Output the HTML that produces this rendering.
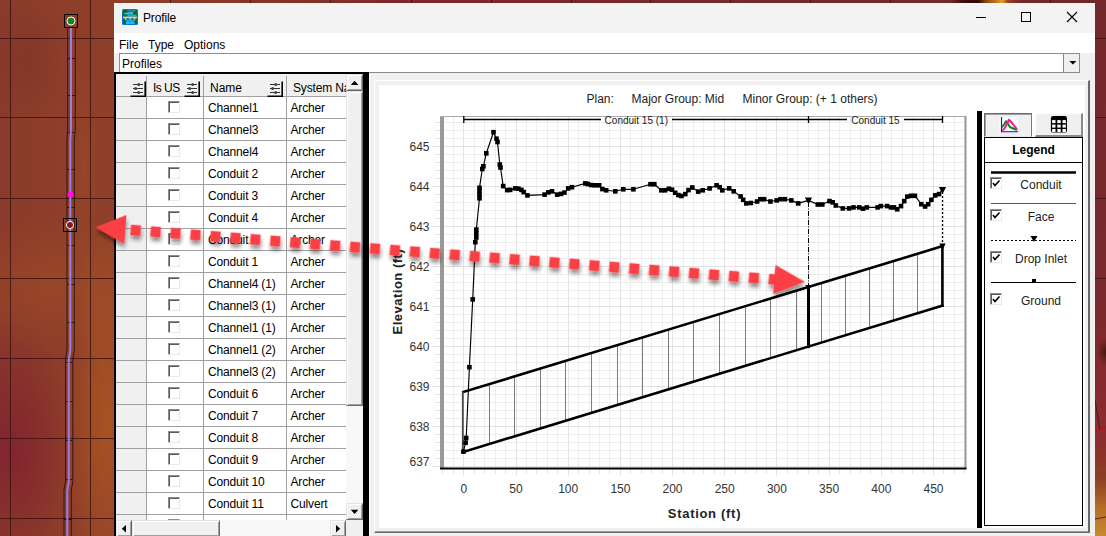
<!DOCTYPE html>
<html><head><meta charset="utf-8"><title>Profile</title>
<style>
*{box-sizing:border-box;margin:0;padding:0}
html,body{width:1106px;height:536px;overflow:hidden;background:#853624;font-family:"Liberation Sans",sans-serif;font-size:12px;color:#000}
#bg{position:absolute;left:0;top:0;width:1106px;height:536px;overflow:hidden;
background:
radial-gradient(ellipse 45px 200px at 108px 420px,rgba(185,95,30,.6),transparent),
radial-gradient(ellipse 14px 110px at 84px 170px,rgba(175,90,45,.25),transparent),
radial-gradient(ellipse 62px 130px at 12px 450px,rgba(128,30,48,.8),transparent),
radial-gradient(ellipse 120px 70px at 50px 285px,rgba(175,88,38,.35),transparent),
radial-gradient(ellipse 40px 60px at 30px 60px,rgba(120,40,40,.3),transparent),
linear-gradient(90deg,#8a3a2a 0,#8e3e29 70px,#8f4029 114px,#7a2c2a 400px,#702828 1106px);}
#bgr{position:absolute;left:1095px;top:0;width:11px;height:536px;background:radial-gradient(ellipse 8px 14px at 10px 352px,rgba(60,20,10,.8),transparent),linear-gradient(180deg,#732829 0,#7a2a2c 300px,#86292e 380px,#8c2c30 440px,#8a4022 478px,#b87028 510px,#c88a30 536px)}
.abs{position:absolute}
#win{position:absolute;left:114px;top:3px;width:981px;height:533px;background:#f0f0f0}
#title{position:absolute;left:0;top:0;width:981px;height:30px;background:#f3f3f3}
#menu{position:absolute;left:0;top:30px;width:981px;height:20px;background:#fff}
#menu span{position:absolute;top:5px;font-size:12px}
#combo{position:absolute;left:5px;top:50px;width:961px;height:20px;background:#fff;border:1px solid #8c8c8c}
#combo b{position:absolute;right:0;top:0;width:16px;height:18px;border-left:1px solid #8a8a8a;background:#f0f0f0}
.row{position:absolute;left:116px;width:231px;height:22px}
.row div{position:absolute;top:0;height:22px;border-right:1px solid #a0a0a0;border-bottom:1px solid #a0a0a0;line-height:23px;white-space:nowrap;overflow:hidden;background:#fff}
.rh{left:0;width:31px;background:#f0f0f0 !important}
.c1{left:31px;width:57px}
.c2{left:88px;width:83px;padding-left:4px;letter-spacing:-.15px}
.c3{left:171px;width:60px;padding-left:3.500px;letter-spacing:-.15px;border-right:none !important}
.cb{position:absolute;left:21px;top:4px;width:12px;height:12px;background:#fff;border-top:1px solid #8c8c8c;border-left:1px solid #8c8c8c;border-right:1px solid #e8e8e8;border-bottom:1px solid #e8e8e8;box-shadow:inset 1px 1px 0 #5a5a5a}
.fi{position:absolute}
.b3{background:#f0f0f0;border-top:1px solid #e3e3e3;border-left:1px solid #e3e3e3;border-right:1px solid #696969;border-bottom:1px solid #696969;box-shadow:inset 1px 1px 0 #fff,inset -1px -1px 0 #a0a0a0}
.dith{background:#f8f8f8}
</style></head><body>
<div id="bg"></div>
<svg class="abs" style="left:0;top:0" width="1106" height="536">
<g stroke="#3a1410" stroke-width="1" opacity=".85" shape-rendering="crispEdges">
<line x1="10.5" y1="0" x2="10.5" y2="536"/><line x1="90.5" y1="0" x2="90.5" y2="536"/>
<line x1="170.5" y1="0" x2="170.5" y2="4"/><line x1="250.5" y1="0" x2="250.5" y2="4"/><line x1="330.5" y1="0" x2="330.5" y2="4"/><line x1="411.5" y1="0" x2="411.5" y2="4"/><line x1="491.5" y1="0" x2="491.5" y2="4"/><line x1="571.5" y1="0" x2="571.5" y2="4"/><line x1="650.5" y1="0" x2="650.5" y2="4"/><line x1="730.5" y1="0" x2="730.5" y2="4"/><line x1="810.5" y1="0" x2="810.5" y2="4"/><line x1="890.5" y1="0" x2="890.5" y2="4"/><line x1="970.5" y1="0" x2="970.5" y2="4"/><line x1="1050.5" y1="0" x2="1050.5" y2="4"/>
<line x1="0" y1="38.5" x2="1106" y2="38.5"/><line x1="0" y1="117.5" x2="1106" y2="117.5"/><line x1="0" y1="198.5" x2="1106" y2="198.5"/><line x1="0" y1="278.5" x2="1106" y2="278.5"/><line x1="0" y1="358.5" x2="1106" y2="358.5"/><line x1="0" y1="438.5" x2="1106" y2="438.5"/><line x1="0" y1="518.5" x2="1106" y2="518.5"/>
</g>
<!-- conduit in map -->
<g stroke="#1a0a08" stroke-width="0.9" fill="none" opacity=".85">
<path d="M67.600 28V130L67 140V350L65.500 360V482L64 490V536"/><path d="M75.300 28V130L74.300 140V350L72.800 360V482L71.300 490V536"/>
<path d="M67 58.500H76M67 95.500H76M67 132.500H75M67 169.500H75M67 207.500H75M67 245.500H75M67 284.500H75M67 322.500H75M65 362.500H73M65 401.500H73M65 440.500H73M65 479.500H73M64 519.500H72"/>
</g>
<path d="M71 28V130L70.300 140V350L68.800 360V482L67.300 490V536" stroke="#8f7fec" stroke-width="2" fill="none"/>
<rect x="64.5" y="14.5" width="13" height="13" fill="none" stroke="#000"/>
<circle cx="71" cy="21" r="4" fill="#0a8a1c" stroke="#fff" stroke-width="1"/>
<circle cx="70.5" cy="194.5" r="3" fill="#ff10e0"/>
<rect x="63.5" y="218.5" width="13" height="13" fill="none" stroke="#000"/>
<circle cx="70" cy="225" r="3.6" fill="#8b1414" stroke="#fff" stroke-width="1"/>
</svg>
<div id="bgr"></div>
<div class="abs" style="left:950px;top:0;width:70px;height:3px;background:linear-gradient(90deg,transparent 0,#3a0c0c 14px,#2c0808 28px,#8a4a10 36px,#b87818 46px,#e0a424 52px,#9a4028 58px,transparent 70px)"></div>
<svg class="abs" style="left:1095px;top:0" width="11" height="536"><g stroke="#3a1410" stroke-width="1" opacity=".8"><line x1="0" y1="38.5" x2="11" y2="38.5"/><line x1="0" y1="117.5" x2="11" y2="117.5"/><line x1="0" y1="198.5" x2="11" y2="198.5"/><line x1="0" y1="278.500" x2="11" y2="278.500"/><line x1="0" y1="400" x2="5" y2="430"/><line x1="0" y1="519" x2="11" y2="517"/></g><g stroke="#c01010" stroke-width="1.200"><line x1="0" y1="432" x2="11" y2="427"/></g></svg>

<div id="win">
 <div id="title">
  <svg class="abs" style="left:8px;top:6px" width="16" height="16" viewBox="0 0 16 16"><rect x="0" y="0" width="16" height="16" rx="1.500" fill="#0b78c8"/><rect x="1" y="1" width="14" height="14" fill="#0b6e2c"/><path d="M6 1.300H14L13 2.600H5Z" fill="#2a8ee0"/><path d="M2 4L10.500 3L11.500 5.200L3 5.600Z" fill="#36c4ff"/><path d="M6 5.400L14.500 5.800V7.600H5Z" fill="#1aa8f0"/><rect x="1" y="7.600" width="14" height="1.600" fill="#e6c8b8"/><path d="M2.300 9.200H5L3.600 11.400ZM6.800 9.200H9.400L8.100 11.400ZM11.200 9.200H13.800L12.500 11.400Z" fill="#e6c8b8"/><circle cx="5.900" cy="10.800" r="1.500" fill="#1078e0"/><circle cx="10.300" cy="10.800" r="1.500" fill="#1078e0"/><path d="M4.300 11.200H12L12.800 15H3.800Z" fill="#22b8ff"/><path d="M5 12.600H11.500" stroke="#1098e8" stroke-width=".8"/></svg>
  <span class="abs" style="left:29px;top:8px;font-size:12px;letter-spacing:-.15px">Profile</span>
  <svg class="abs" style="left:850px;top:0" width="131" height="30"><g stroke="#000" stroke-width="1" fill="none" shape-rendering="crispEdges"><line x1="12" y1="14.5" x2="22" y2="14.5"/><rect x="57.500" y="9.500" width="9" height="9"/></g><path d="M103 9L113 19M113 9L103 19" stroke="#000" stroke-width="1.1"/></svg>
 </div>
 <div id="menu"><span style="left:5px">File</span><span style="left:34px">Type</span><span style="left:70px">Options</span></div>
 <div id="combo"><span class="abs" style="left:2px;top:3px">Profiles</span><b><svg width="15" height="18"><path d="M5.400 7H12.400L8.900 10.600Z" fill="#000"/></svg></b></div>
</div>

<!-- table -->
<div class="abs" style="left:114px;top:72px;width:255px;height:464px;background:#000"></div>
<div class="abs" style="left:116px;top:74px;width:247px;height:462px;background:#f0f0f0;overflow:hidden"></div>
<div class="abs" id="hdr" style="left:116px;top:74px;width:230px;overflow:hidden;height:23px;background:#f0f0f0;border-bottom:1px solid #a0a0a0">
 <div class="abs" style="left:30px;top:2px;width:1px;height:20px;background:#a0a0a0"></div>
 <div class="abs" style="left:87px;top:2px;width:1px;height:20px;background:#a0a0a0"></div>
 <div class="abs" style="left:170px;top:2px;width:1px;height:20px;background:#a0a0a0"></div>
 <span class="abs" style="left:37px;top:7px;letter-spacing:-.55px;white-space:nowrap">Is US</span>
 <span class="abs" style="left:94px;top:7px">Name</span>
 <span class="abs" style="left:177px;top:7px;white-space:nowrap;letter-spacing:-.15px">System Na</span>
</div>
<div class="abs" style="left:130px;top:81px"><svg class="fi" width="16" height="16" viewBox="0 0 16 16"><rect x="0" y="0" width="15" height="15" fill="#f0f0f0"/><path d="M0.500 15.200H15.200V0.500" fill="none" stroke="#000" stroke-width="1.600"/><g stroke="#333" stroke-width="1" shape-rendering="crispEdges"><line x1="3" y1="3.500" x2="13" y2="3.500"/><line x1="3" y1="7.500" x2="13" y2="7.500"/><line x1="3" y1="11.500" x2="13" y2="11.500"/></g><g fill="#444"><circle cx="8.700" cy="3.500" r="1.500"/><circle cx="5.700" cy="7.500" r="1.500"/><circle cx="8.700" cy="11.500" r="1.500"/></g></svg></div>
<div class="abs" style="left:184px;top:81px"><svg class="fi" width="16" height="16" viewBox="0 0 16 16"><rect x="0" y="0" width="15" height="15" fill="#f0f0f0"/><path d="M0.500 15.200H15.200V0.500" fill="none" stroke="#000" stroke-width="1.600"/><g stroke="#333" stroke-width="1" shape-rendering="crispEdges"><line x1="3" y1="3.500" x2="13" y2="3.500"/><line x1="3" y1="7.500" x2="13" y2="7.500"/><line x1="3" y1="11.500" x2="13" y2="11.500"/></g><g fill="#444"><circle cx="8.700" cy="3.500" r="1.500"/><circle cx="5.700" cy="7.500" r="1.500"/><circle cx="8.700" cy="11.500" r="1.500"/></g></svg></div>
<div class="abs" style="left:267px;top:81px"><svg class="fi" width="16" height="16" viewBox="0 0 16 16"><rect x="0" y="0" width="15" height="15" fill="#f0f0f0"/><path d="M0.500 15.200H15.200V0.500" fill="none" stroke="#000" stroke-width="1.600"/><g stroke="#333" stroke-width="1" shape-rendering="crispEdges"><line x1="3" y1="3.500" x2="13" y2="3.500"/><line x1="3" y1="7.500" x2="13" y2="7.500"/><line x1="3" y1="11.500" x2="13" y2="11.500"/></g><g fill="#444"><circle cx="8.700" cy="3.500" r="1.500"/><circle cx="5.700" cy="7.500" r="1.500"/><circle cx="8.700" cy="11.500" r="1.500"/></g></svg></div>
<div class="abs" style="left:0;top:0;width:346px;height:520px;overflow:hidden">
<div class="row" style="top:97px"><div class="rh"></div><div class="c1"><i class="cb"></i></div><div class="c2">Channel1</div><div class="c3">Archer</div></div>
<div class="row" style="top:119px"><div class="rh"></div><div class="c1"><i class="cb"></i></div><div class="c2">Channel3</div><div class="c3">Archer</div></div>
<div class="row" style="top:141px"><div class="rh"></div><div class="c1"><i class="cb"></i></div><div class="c2">Channel4</div><div class="c3">Archer</div></div>
<div class="row" style="top:163px"><div class="rh"></div><div class="c1"><i class="cb"></i></div><div class="c2">Conduit 2</div><div class="c3">Archer</div></div>
<div class="row" style="top:185px"><div class="rh"></div><div class="c1"><i class="cb"></i></div><div class="c2">Conduit 3</div><div class="c3">Archer</div></div>
<div class="row" style="top:207px"><div class="rh"></div><div class="c1"><i class="cb"></i></div><div class="c2">Conduit 4</div><div class="c3">Archer</div></div>
<div class="row" style="top:229px"><div class="rh"></div><div class="c1"><i class="cb"></i></div><div class="c2">Conduit 5</div><div class="c3">Archer</div></div>
<div class="row" style="top:251px"><div class="rh"></div><div class="c1"><i class="cb"></i></div><div class="c2">Conduit 1</div><div class="c3">Archer</div></div>
<div class="row" style="top:273px"><div class="rh"></div><div class="c1"><i class="cb"></i></div><div class="c2">Channel4 (1)</div><div class="c3">Archer</div></div>
<div class="row" style="top:295px"><div class="rh"></div><div class="c1"><i class="cb"></i></div><div class="c2">Channel3 (1)</div><div class="c3">Archer</div></div>
<div class="row" style="top:317px"><div class="rh"></div><div class="c1"><i class="cb"></i></div><div class="c2">Channel1 (1)</div><div class="c3">Archer</div></div>
<div class="row" style="top:339px"><div class="rh"></div><div class="c1"><i class="cb"></i></div><div class="c2">Channel1 (2)</div><div class="c3">Archer</div></div>
<div class="row" style="top:361px"><div class="rh"></div><div class="c1"><i class="cb"></i></div><div class="c2">Channel3 (2)</div><div class="c3">Archer</div></div>
<div class="row" style="top:383px"><div class="rh"></div><div class="c1"><i class="cb"></i></div><div class="c2">Conduit 6</div><div class="c3">Archer</div></div>
<div class="row" style="top:405px"><div class="rh"></div><div class="c1"><i class="cb"></i></div><div class="c2">Conduit 7</div><div class="c3">Archer</div></div>
<div class="row" style="top:427px"><div class="rh"></div><div class="c1"><i class="cb"></i></div><div class="c2">Conduit 8</div><div class="c3">Archer</div></div>
<div class="row" style="top:449px"><div class="rh"></div><div class="c1"><i class="cb"></i></div><div class="c2">Conduit 9</div><div class="c3">Archer</div></div>
<div class="row" style="top:471px"><div class="rh"></div><div class="c1"><i class="cb"></i></div><div class="c2">Conduit 10</div><div class="c3">Archer</div></div>
<div class="row" style="top:493px"><div class="rh"></div><div class="c1"><i class="cb"></i></div><div class="c2">Conduit 11</div><div class="c3">Culvert</div></div>
<div class="row" style="top:515px"><div class="rh"></div><div class="c1"><i class="cb"></i></div><div class="c2"></div><div class="c3"></div></div>
</div>
<!-- v scrollbar -->
<div class="abs dith" style="left:346px;top:74px;width:17px;height:446px"></div>
<div class="abs b3" style="left:346px;top:74px;width:17px;height:17px"><svg width="15" height="15"><path d="M3.800 10H11.400L7.600 5.800Z" fill="#000"/></svg></div>
<div class="abs b3" style="left:346px;top:91px;width:17px;height:315px"></div>
<div class="abs b3" style="left:346px;top:503px;width:17px;height:17px"><svg width="15" height="15"><path d="M3.800 5.800H11.400L7.600 10Z" fill="#000"/></svg></div>
<!-- h scrollbar -->
<div class="abs dith" style="left:116px;top:520px;width:230px;height:16px"></div>
<div class="abs b3" style="left:116px;top:520px;width:16px;height:17px"><svg width="14" height="15"><path d="M9 4V11.600L4.800 7.800Z" fill="#000"/></svg></div>
<div class="abs b3" style="left:132px;top:520px;width:88px;height:17px"></div>
<div class="abs b3" style="left:330px;top:520px;width:16px;height:17px"><svg width="14" height="15"><path d="M5 4V11.600L9.200 7.800Z" fill="#000"/></svg></div>
<div class="abs" style="left:346px;top:520px;width:17px;height:16px;background:#f0f0f0"></div>

<div class="abs" style="left:369px;top:74px;width:1px;height:462px;background:#fff"></div>
<!-- chart container -->
<div class="abs" style="left:374px;top:80px;width:716px;height:453px;background:#f0f0f0;border-top:1px solid #fff;border-left:1px solid #fff;border-right:2px solid #696969;border-bottom:1px solid #696969;box-shadow:inset 0 -1px 0 #999"></div>
<div class="abs" style="left:379px;top:85px;width:706px;height:443px;background:#fff"></div>
<div class="abs" style="left:977px;top:111px;width:5px;height:417px;background:#000"></div>
<svg class="abs" style="left:0;top:0" width="1106" height="536" font-family="Liberation Sans, sans-serif">
<rect x="440" y="116" width="526" height="352" fill="#fff"/>
<g stroke-width="1" shape-rendering="crispEdges"><line x1="453.4" y1="116" x2="453.4" y2="468" stroke="#ededed"/><line x1="463.8" y1="116" x2="463.8" y2="468" stroke="#e2e2e2"/><line x1="474.2" y1="116" x2="474.2" y2="468" stroke="#ededed"/><line x1="484.7" y1="116" x2="484.7" y2="468" stroke="#ededed"/><line x1="495.1" y1="116" x2="495.1" y2="468" stroke="#ededed"/><line x1="505.5" y1="116" x2="505.5" y2="468" stroke="#ededed"/><line x1="516.0" y1="116" x2="516.0" y2="468" stroke="#e2e2e2"/><line x1="526.4" y1="116" x2="526.4" y2="468" stroke="#ededed"/><line x1="536.9" y1="116" x2="536.9" y2="468" stroke="#ededed"/><line x1="547.3" y1="116" x2="547.3" y2="468" stroke="#ededed"/><line x1="557.7" y1="116" x2="557.7" y2="468" stroke="#ededed"/><line x1="568.2" y1="116" x2="568.2" y2="468" stroke="#e2e2e2"/><line x1="578.6" y1="116" x2="578.6" y2="468" stroke="#ededed"/><line x1="589.0" y1="116" x2="589.0" y2="468" stroke="#ededed"/><line x1="599.5" y1="116" x2="599.5" y2="468" stroke="#ededed"/><line x1="609.9" y1="116" x2="609.9" y2="468" stroke="#ededed"/><line x1="620.4" y1="116" x2="620.4" y2="468" stroke="#e2e2e2"/><line x1="630.8" y1="116" x2="630.8" y2="468" stroke="#ededed"/><line x1="641.2" y1="116" x2="641.2" y2="468" stroke="#ededed"/><line x1="651.7" y1="116" x2="651.7" y2="468" stroke="#ededed"/><line x1="662.1" y1="116" x2="662.1" y2="468" stroke="#ededed"/><line x1="672.5" y1="116" x2="672.5" y2="468" stroke="#e2e2e2"/><line x1="683.0" y1="116" x2="683.0" y2="468" stroke="#ededed"/><line x1="693.4" y1="116" x2="693.4" y2="468" stroke="#ededed"/><line x1="703.9" y1="116" x2="703.9" y2="468" stroke="#ededed"/><line x1="714.3" y1="116" x2="714.3" y2="468" stroke="#ededed"/><line x1="724.7" y1="116" x2="724.7" y2="468" stroke="#e2e2e2"/><line x1="735.2" y1="116" x2="735.2" y2="468" stroke="#ededed"/><line x1="745.6" y1="116" x2="745.6" y2="468" stroke="#ededed"/><line x1="756.0" y1="116" x2="756.0" y2="468" stroke="#ededed"/><line x1="766.5" y1="116" x2="766.5" y2="468" stroke="#ededed"/><line x1="776.9" y1="116" x2="776.9" y2="468" stroke="#e2e2e2"/><line x1="787.3" y1="116" x2="787.3" y2="468" stroke="#ededed"/><line x1="797.8" y1="116" x2="797.8" y2="468" stroke="#ededed"/><line x1="808.2" y1="116" x2="808.2" y2="468" stroke="#ededed"/><line x1="818.7" y1="116" x2="818.7" y2="468" stroke="#ededed"/><line x1="829.1" y1="116" x2="829.1" y2="468" stroke="#e2e2e2"/><line x1="839.5" y1="116" x2="839.5" y2="468" stroke="#ededed"/><line x1="850.0" y1="116" x2="850.0" y2="468" stroke="#ededed"/><line x1="860.4" y1="116" x2="860.4" y2="468" stroke="#ededed"/><line x1="870.8" y1="116" x2="870.8" y2="468" stroke="#ededed"/><line x1="881.3" y1="116" x2="881.3" y2="468" stroke="#e2e2e2"/><line x1="891.7" y1="116" x2="891.7" y2="468" stroke="#ededed"/><line x1="902.2" y1="116" x2="902.2" y2="468" stroke="#ededed"/><line x1="912.6" y1="116" x2="912.6" y2="468" stroke="#ededed"/><line x1="923.0" y1="116" x2="923.0" y2="468" stroke="#ededed"/><line x1="933.5" y1="116" x2="933.5" y2="468" stroke="#e2e2e2"/><line x1="943.9" y1="116" x2="943.9" y2="468" stroke="#ededed"/><line x1="954.3" y1="116" x2="954.3" y2="468" stroke="#ededed"/><line x1="964.8" y1="116" x2="964.8" y2="468" stroke="#ededed"/><line x1="440" y1="466.3" x2="966" y2="466.3" stroke="#e2e2e2"/><line x1="440" y1="458.3" x2="966" y2="458.3" stroke="#ededed"/><line x1="440" y1="450.3" x2="966" y2="450.3" stroke="#ededed"/><line x1="440" y1="442.3" x2="966" y2="442.3" stroke="#ededed"/><line x1="440" y1="434.3" x2="966" y2="434.3" stroke="#ededed"/><line x1="440" y1="426.3" x2="966" y2="426.3" stroke="#e2e2e2"/><line x1="440" y1="418.3" x2="966" y2="418.3" stroke="#ededed"/><line x1="440" y1="410.3" x2="966" y2="410.3" stroke="#ededed"/><line x1="440" y1="402.3" x2="966" y2="402.3" stroke="#ededed"/><line x1="440" y1="394.3" x2="966" y2="394.3" stroke="#ededed"/><line x1="440" y1="386.3" x2="966" y2="386.3" stroke="#e2e2e2"/><line x1="440" y1="378.3" x2="966" y2="378.3" stroke="#ededed"/><line x1="440" y1="370.3" x2="966" y2="370.3" stroke="#ededed"/><line x1="440" y1="362.3" x2="966" y2="362.3" stroke="#ededed"/><line x1="440" y1="354.3" x2="966" y2="354.3" stroke="#ededed"/><line x1="440" y1="346.3" x2="966" y2="346.3" stroke="#e2e2e2"/><line x1="440" y1="338.3" x2="966" y2="338.3" stroke="#ededed"/><line x1="440" y1="330.3" x2="966" y2="330.3" stroke="#ededed"/><line x1="440" y1="322.3" x2="966" y2="322.3" stroke="#ededed"/><line x1="440" y1="314.3" x2="966" y2="314.3" stroke="#ededed"/><line x1="440" y1="306.3" x2="966" y2="306.3" stroke="#e2e2e2"/><line x1="440" y1="298.3" x2="966" y2="298.3" stroke="#ededed"/><line x1="440" y1="290.3" x2="966" y2="290.3" stroke="#ededed"/><line x1="440" y1="282.3" x2="966" y2="282.3" stroke="#ededed"/><line x1="440" y1="274.3" x2="966" y2="274.3" stroke="#ededed"/><line x1="440" y1="266.3" x2="966" y2="266.3" stroke="#e2e2e2"/><line x1="440" y1="258.3" x2="966" y2="258.3" stroke="#ededed"/><line x1="440" y1="250.3" x2="966" y2="250.3" stroke="#ededed"/><line x1="440" y1="242.3" x2="966" y2="242.3" stroke="#ededed"/><line x1="440" y1="234.3" x2="966" y2="234.3" stroke="#ededed"/><line x1="440" y1="226.3" x2="966" y2="226.3" stroke="#e2e2e2"/><line x1="440" y1="218.3" x2="966" y2="218.3" stroke="#ededed"/><line x1="440" y1="210.3" x2="966" y2="210.3" stroke="#ededed"/><line x1="440" y1="202.3" x2="966" y2="202.3" stroke="#ededed"/><line x1="440" y1="194.3" x2="966" y2="194.3" stroke="#ededed"/><line x1="440" y1="186.3" x2="966" y2="186.3" stroke="#e2e2e2"/><line x1="440" y1="178.3" x2="966" y2="178.3" stroke="#ededed"/><line x1="440" y1="170.3" x2="966" y2="170.3" stroke="#ededed"/><line x1="440" y1="162.3" x2="966" y2="162.3" stroke="#ededed"/><line x1="440" y1="154.3" x2="966" y2="154.3" stroke="#ededed"/><line x1="440" y1="146.3" x2="966" y2="146.3" stroke="#e2e2e2"/><line x1="440" y1="138.3" x2="966" y2="138.3" stroke="#ededed"/><line x1="440" y1="130.3" x2="966" y2="130.3" stroke="#ededed"/><line x1="440" y1="122.3" x2="966" y2="122.3" stroke="#ededed"/></g>
<g stroke="#e4e4e4" stroke-width="1" shape-rendering="crispEdges"><line x1="432" y1="466.3" x2="440" y2="466.3"/><line x1="435" y1="458.3" x2="440" y2="458.3"/><line x1="435" y1="450.3" x2="440" y2="450.3"/><line x1="435" y1="442.3" x2="440" y2="442.3"/><line x1="435" y1="434.3" x2="440" y2="434.3"/><line x1="432" y1="426.3" x2="440" y2="426.3"/><line x1="435" y1="418.3" x2="440" y2="418.3"/><line x1="435" y1="410.3" x2="440" y2="410.3"/><line x1="435" y1="402.3" x2="440" y2="402.3"/><line x1="435" y1="394.3" x2="440" y2="394.3"/><line x1="432" y1="386.3" x2="440" y2="386.3"/><line x1="435" y1="378.3" x2="440" y2="378.3"/><line x1="435" y1="370.3" x2="440" y2="370.3"/><line x1="435" y1="362.3" x2="440" y2="362.3"/><line x1="435" y1="354.3" x2="440" y2="354.3"/><line x1="432" y1="346.3" x2="440" y2="346.3"/><line x1="435" y1="338.3" x2="440" y2="338.3"/><line x1="435" y1="330.3" x2="440" y2="330.3"/><line x1="435" y1="322.3" x2="440" y2="322.3"/><line x1="435" y1="314.3" x2="440" y2="314.3"/><line x1="432" y1="306.3" x2="440" y2="306.3"/><line x1="435" y1="298.3" x2="440" y2="298.3"/><line x1="435" y1="290.3" x2="440" y2="290.3"/><line x1="435" y1="282.3" x2="440" y2="282.3"/><line x1="435" y1="274.3" x2="440" y2="274.3"/><line x1="432" y1="266.3" x2="440" y2="266.3"/><line x1="435" y1="258.3" x2="440" y2="258.3"/><line x1="435" y1="250.3" x2="440" y2="250.3"/><line x1="435" y1="242.3" x2="440" y2="242.3"/><line x1="435" y1="234.3" x2="440" y2="234.3"/><line x1="432" y1="226.3" x2="440" y2="226.3"/><line x1="435" y1="218.3" x2="440" y2="218.3"/><line x1="435" y1="210.3" x2="440" y2="210.3"/><line x1="435" y1="202.3" x2="440" y2="202.3"/><line x1="435" y1="194.3" x2="440" y2="194.3"/><line x1="432" y1="186.3" x2="440" y2="186.3"/><line x1="435" y1="178.3" x2="440" y2="178.3"/><line x1="435" y1="170.3" x2="440" y2="170.3"/><line x1="435" y1="162.3" x2="440" y2="162.3"/><line x1="435" y1="154.3" x2="440" y2="154.3"/><line x1="432" y1="146.3" x2="440" y2="146.3"/><line x1="435" y1="138.3" x2="440" y2="138.3"/><line x1="435" y1="130.3" x2="440" y2="130.3"/><line x1="435" y1="122.3" x2="440" y2="122.3"/><line x1="442.9" y1="468" x2="442.9" y2="474"/><line x1="453.4" y1="468" x2="453.4" y2="474"/><line x1="463.8" y1="468" x2="463.8" y2="476"/><line x1="474.2" y1="468" x2="474.2" y2="474"/><line x1="484.7" y1="468" x2="484.7" y2="474"/><line x1="495.1" y1="468" x2="495.1" y2="474"/><line x1="505.5" y1="468" x2="505.5" y2="474"/><line x1="516.0" y1="468" x2="516.0" y2="476"/><line x1="526.4" y1="468" x2="526.4" y2="474"/><line x1="536.9" y1="468" x2="536.9" y2="474"/><line x1="547.3" y1="468" x2="547.3" y2="474"/><line x1="557.7" y1="468" x2="557.7" y2="474"/><line x1="568.2" y1="468" x2="568.2" y2="476"/><line x1="578.6" y1="468" x2="578.6" y2="474"/><line x1="589.0" y1="468" x2="589.0" y2="474"/><line x1="599.5" y1="468" x2="599.5" y2="474"/><line x1="609.9" y1="468" x2="609.9" y2="474"/><line x1="620.4" y1="468" x2="620.4" y2="476"/><line x1="630.8" y1="468" x2="630.8" y2="474"/><line x1="641.2" y1="468" x2="641.2" y2="474"/><line x1="651.7" y1="468" x2="651.7" y2="474"/><line x1="662.1" y1="468" x2="662.1" y2="474"/><line x1="672.5" y1="468" x2="672.5" y2="476"/><line x1="683.0" y1="468" x2="683.0" y2="474"/><line x1="693.4" y1="468" x2="693.4" y2="474"/><line x1="703.9" y1="468" x2="703.9" y2="474"/><line x1="714.3" y1="468" x2="714.3" y2="474"/><line x1="724.7" y1="468" x2="724.7" y2="476"/><line x1="735.2" y1="468" x2="735.2" y2="474"/><line x1="745.6" y1="468" x2="745.6" y2="474"/><line x1="756.0" y1="468" x2="756.0" y2="474"/><line x1="766.5" y1="468" x2="766.5" y2="474"/><line x1="776.9" y1="468" x2="776.9" y2="476"/><line x1="787.3" y1="468" x2="787.3" y2="474"/><line x1="797.8" y1="468" x2="797.8" y2="474"/><line x1="808.2" y1="468" x2="808.2" y2="474"/><line x1="818.7" y1="468" x2="818.7" y2="474"/><line x1="829.1" y1="468" x2="829.1" y2="476"/><line x1="839.5" y1="468" x2="839.5" y2="474"/><line x1="850.0" y1="468" x2="850.0" y2="474"/><line x1="860.4" y1="468" x2="860.4" y2="474"/><line x1="870.8" y1="468" x2="870.8" y2="474"/><line x1="881.3" y1="468" x2="881.3" y2="476"/><line x1="891.7" y1="468" x2="891.7" y2="474"/><line x1="902.2" y1="468" x2="902.2" y2="474"/><line x1="912.6" y1="468" x2="912.6" y2="474"/><line x1="923.0" y1="468" x2="923.0" y2="474"/><line x1="933.5" y1="468" x2="933.5" y2="476"/><line x1="943.9" y1="468" x2="943.9" y2="474"/><line x1="954.3" y1="468" x2="954.3" y2="474"/><line x1="964.8" y1="468" x2="964.8" y2="474"/></g>
<rect x="440" y="116" width="4" height="352" fill="#999"/>
<rect x="440" y="116" width="526" height="1" fill="#aaa"/>
<rect x="964.5" y="116" width="2" height="352" fill="#999"/>
<rect x="440" y="467.5" width="526.5" height="2" fill="#000"/>
<g stroke="#7c7c7c" stroke-width="1"><line x1="489.5" y1="384.2" x2="489.5" y2="444.1"/><line x1="514.5" y1="376.4" x2="514.5" y2="436.3"/><line x1="540.5" y1="368.6" x2="540.5" y2="428.5"/><line x1="565.5" y1="360.8" x2="565.5" y2="420.6"/><line x1="591.5" y1="353.0" x2="591.5" y2="412.8"/><line x1="617.5" y1="345.2" x2="617.5" y2="405.0"/><line x1="642.5" y1="337.5" x2="642.5" y2="397.2"/><line x1="668.5" y1="329.7" x2="668.5" y2="389.4"/><line x1="693.5" y1="321.9" x2="693.5" y2="381.6"/><line x1="719.5" y1="314.1" x2="719.5" y2="373.8"/><line x1="745.5" y1="306.3" x2="745.5" y2="366.0"/><line x1="770.5" y1="298.5" x2="770.5" y2="358.1"/><line x1="796.5" y1="290.7" x2="796.5" y2="350.3"/><line x1="821.5" y1="283.1" x2="821.5" y2="342.7"/><line x1="845.5" y1="275.7" x2="845.5" y2="335.2"/><line x1="869.5" y1="268.3" x2="869.5" y2="327.9"/><line x1="893.5" y1="261.0" x2="893.5" y2="320.5"/><line x1="917.5" y1="253.7" x2="917.5" y2="313.2"/></g>
<g stroke="#000" stroke-width="2.6" fill="none" stroke-linecap="square"><line x1="463.4" y1="392" x2="942.4" y2="246.2"/><line x1="463.4" y1="451.9" x2="942.4" y2="305.7"/><line x1="942.4" y1="246.2" x2="942.4" y2="305.7"/><line x1="808.5" y1="287.0" x2="808.5" y2="346.6" stroke-width="3"/></g>
<line x1="462.79999999999995" y1="392" x2="462.79999999999995" y2="451.9" stroke="#444" stroke-width="1.8"/>
<line x1="808.5" y1="202" x2="808.5" y2="287.0" stroke="#000" stroke-width="1" stroke-dasharray="5 1.5 1 1.5"/>
<line x1="942.5" y1="192" x2="942.5" y2="246.2" stroke="#000" stroke-width="1.3" stroke-dasharray="2 2"/>
<path d="M804.9 197.6L812.1 197.6L808.5 204.6Z" fill="#000"/><path d="M805.3 284.9L811.7 284.9L808.5 291.1Z" fill="#000"/><path d="M938.9 187.0L946.1 187.0L942.5 194.0Z" fill="#000"/><path d="M939.3 243.6L945.7 243.6L942.5 249.8Z" fill="#000"/>
<polyline points="463.4,451.6 465.6,442.7 466.2,438.0 469.4,367.2 472.7,299.4 475.3,242.2 476.3,237.5 476.3,233.5 476.3,229.6 479.5,198.3 479.5,194.5 479.5,191.0 479.5,187.8 482.3,169.0 483.4,166.3 486.3,153.3 493.5,132.2 496.5,138.7 497.5,142.0 499.8,164.5 500.5,167.5 503.2,186.1 507.2,190.1 510.2,189.9 515.4,188.4 518.4,188.7 521.4,189.9 523.7,192.1 527.4,195.4 544.6,194.6 548.3,192.4 552.0,191.3 557.2,194.6 561.0,193.9 564.4,192.6 568.2,188.4 572.0,187.2 585.3,183.4 587.8,184.0 591.0,185.0 594.8,185.3 599.2,185.3 602.4,189.1 606.2,190.3 615.3,191.3 623.3,189.3 633.4,189.3 650.5,184.2 654.3,184.2 661.3,190.3 665.0,190.3 668.9,188.8 672.0,189.7 675.2,192.8 678.4,195.1 681.5,196.0 685.3,194.1 688.5,190.1 692.3,187.5 698.2,191.6 702.7,190.3 709.6,188.4 716.6,185.3 719.7,187.2 722.3,190.3 729.2,188.4 733.7,191.3 740.6,196.4 743.2,199.8 746.3,203.4 750.8,203.0 757.1,201.5 760.3,199.2 764.1,199.2 770.4,201.5 776.7,200.4 780.5,199.2 784.9,199.2 791.3,200.4 798.2,203.4 808.4,200.4 817.8,204.5 822.3,204.5 829.5,201.1 832.7,202.3 835.8,205.5 842.8,208.4 849.1,208.4 853.5,207.4 859.2,207.4 863.0,208.7 866.8,207.4 877.6,207.4 880.8,206.1 887.1,206.1 890.9,207.4 894.0,207.4 897.2,209.3 901.0,206.1 904.2,201.1 907.3,196.6 911.1,195.8 914.9,195.8 921.3,204.2 925.1,206.5 928.2,204.2 931.4,199.8 935.2,195.4 939.0,194.1 942.5,189.7" fill="none" stroke="#000" stroke-width="1.150" stroke-linejoin="round"/>
<g fill="#000"><rect x="461.1" y="449.3" width="4.6" height="4.6"/><rect x="463.3" y="440.4" width="4.6" height="4.6"/><rect x="463.9" y="435.7" width="4.6" height="4.6"/><rect x="467.1" y="364.9" width="4.6" height="4.6"/><rect x="470.4" y="297.1" width="4.6" height="4.6"/><rect x="473.0" y="239.9" width="4.6" height="4.6"/><rect x="474.0" y="235.2" width="4.6" height="4.6"/><rect x="474.0" y="231.2" width="4.6" height="4.6"/><rect x="474.0" y="227.3" width="4.6" height="4.6"/><rect x="477.2" y="196.0" width="4.6" height="4.6"/><rect x="477.2" y="192.2" width="4.6" height="4.6"/><rect x="477.2" y="188.7" width="4.6" height="4.6"/><rect x="477.2" y="185.5" width="4.6" height="4.6"/><rect x="480.0" y="166.7" width="4.6" height="4.6"/><rect x="481.1" y="164.0" width="4.6" height="4.6"/><rect x="484.0" y="151.0" width="4.6" height="4.6"/><rect x="491.2" y="129.9" width="4.6" height="4.6"/><rect x="494.2" y="136.4" width="4.6" height="4.6"/><rect x="495.2" y="139.7" width="4.6" height="4.6"/><rect x="497.5" y="162.2" width="4.6" height="4.6"/><rect x="498.2" y="165.2" width="4.6" height="4.6"/><rect x="500.9" y="183.8" width="4.6" height="4.6"/><rect x="504.9" y="187.8" width="4.6" height="4.6"/><rect x="507.9" y="187.6" width="4.6" height="4.6"/><rect x="513.1" y="186.1" width="4.6" height="4.6"/><rect x="516.1" y="186.4" width="4.6" height="4.6"/><rect x="519.1" y="187.6" width="4.6" height="4.6"/><rect x="521.4" y="189.8" width="4.6" height="4.6"/><rect x="525.1" y="193.1" width="4.6" height="4.6"/><rect x="542.3" y="192.3" width="4.6" height="4.6"/><rect x="546.0" y="190.1" width="4.6" height="4.6"/><rect x="549.7" y="189.0" width="4.6" height="4.6"/><rect x="554.9" y="192.3" width="4.6" height="4.6"/><rect x="558.7" y="191.6" width="4.6" height="4.6"/><rect x="562.1" y="190.3" width="4.6" height="4.6"/><rect x="565.9" y="186.1" width="4.6" height="4.6"/><rect x="569.7" y="184.9" width="4.6" height="4.6"/><rect x="583.0" y="181.1" width="4.6" height="4.6"/><rect x="585.5" y="181.7" width="4.6" height="4.6"/><rect x="588.7" y="182.7" width="4.6" height="4.6"/><rect x="592.5" y="183.0" width="4.6" height="4.6"/><rect x="596.9" y="183.0" width="4.6" height="4.6"/><rect x="600.1" y="186.8" width="4.6" height="4.6"/><rect x="603.9" y="188.0" width="4.6" height="4.6"/><rect x="613.0" y="189.0" width="4.6" height="4.6"/><rect x="621.0" y="187.0" width="4.6" height="4.6"/><rect x="631.1" y="187.0" width="4.6" height="4.6"/><rect x="648.2" y="181.9" width="4.6" height="4.6"/><rect x="652.0" y="181.9" width="4.6" height="4.6"/><rect x="659.0" y="188.0" width="4.6" height="4.6"/><rect x="662.7" y="188.0" width="4.6" height="4.6"/><rect x="666.6" y="186.5" width="4.6" height="4.6"/><rect x="669.7" y="187.4" width="4.6" height="4.6"/><rect x="672.9" y="190.5" width="4.6" height="4.6"/><rect x="676.1" y="192.8" width="4.6" height="4.6"/><rect x="679.2" y="193.7" width="4.6" height="4.6"/><rect x="683.0" y="191.8" width="4.6" height="4.6"/><rect x="686.2" y="187.8" width="4.6" height="4.6"/><rect x="690.0" y="185.2" width="4.6" height="4.6"/><rect x="695.9" y="189.3" width="4.6" height="4.6"/><rect x="700.4" y="188.0" width="4.6" height="4.6"/><rect x="707.3" y="186.1" width="4.6" height="4.6"/><rect x="714.3" y="183.0" width="4.6" height="4.6"/><rect x="717.4" y="184.9" width="4.6" height="4.6"/><rect x="720.0" y="188.0" width="4.6" height="4.6"/><rect x="726.9" y="186.1" width="4.6" height="4.6"/><rect x="731.4" y="189.0" width="4.6" height="4.6"/><rect x="738.3" y="194.1" width="4.6" height="4.6"/><rect x="740.9" y="197.5" width="4.6" height="4.6"/><rect x="744.0" y="201.1" width="4.6" height="4.6"/><rect x="748.5" y="200.7" width="4.6" height="4.6"/><rect x="754.8" y="199.2" width="4.6" height="4.6"/><rect x="758.0" y="196.9" width="4.6" height="4.6"/><rect x="761.8" y="196.9" width="4.6" height="4.6"/><rect x="768.1" y="199.2" width="4.6" height="4.6"/><rect x="774.4" y="198.1" width="4.6" height="4.6"/><rect x="778.2" y="196.9" width="4.6" height="4.6"/><rect x="782.6" y="196.9" width="4.6" height="4.6"/><rect x="789.0" y="198.1" width="4.6" height="4.6"/><rect x="795.9" y="201.1" width="4.6" height="4.6"/><rect x="815.5" y="202.2" width="4.6" height="4.6"/><rect x="820.0" y="202.2" width="4.6" height="4.6"/><rect x="827.2" y="198.8" width="4.6" height="4.6"/><rect x="830.4" y="200.0" width="4.6" height="4.6"/><rect x="833.5" y="203.2" width="4.6" height="4.6"/><rect x="840.5" y="206.1" width="4.6" height="4.6"/><rect x="846.8" y="206.1" width="4.6" height="4.6"/><rect x="851.2" y="205.1" width="4.6" height="4.6"/><rect x="856.9" y="205.1" width="4.6" height="4.6"/><rect x="860.7" y="206.4" width="4.6" height="4.6"/><rect x="864.5" y="205.1" width="4.6" height="4.6"/><rect x="875.3" y="205.1" width="4.6" height="4.6"/><rect x="878.5" y="203.8" width="4.6" height="4.6"/><rect x="884.8" y="203.8" width="4.6" height="4.6"/><rect x="888.6" y="205.1" width="4.6" height="4.6"/><rect x="891.7" y="205.1" width="4.6" height="4.6"/><rect x="894.9" y="207.0" width="4.6" height="4.6"/><rect x="898.7" y="203.8" width="4.6" height="4.6"/><rect x="901.9" y="198.8" width="4.6" height="4.6"/><rect x="905.0" y="194.3" width="4.6" height="4.6"/><rect x="908.8" y="193.5" width="4.6" height="4.6"/><rect x="912.6" y="193.5" width="4.6" height="4.6"/><rect x="919.0" y="201.9" width="4.6" height="4.6"/><rect x="922.8" y="204.2" width="4.6" height="4.6"/><rect x="925.9" y="201.9" width="4.6" height="4.6"/><rect x="929.1" y="197.5" width="4.6" height="4.6"/><rect x="932.9" y="193.1" width="4.6" height="4.6"/><rect x="936.7" y="191.8" width="4.6" height="4.6"/></g>
<g stroke="#000" stroke-width="1.3"><line x1="463.8" y1="119.5" x2="601" y2="119.5"/><line x1="672" y1="119.5" x2="808.5" y2="119.5"/><line x1="808.5" y1="119.5" x2="847" y2="119.5"/><line x1="904" y1="119.5" x2="942.5" y2="119.5"/><line x1="463.8" y1="116" x2="463.8" y2="123"/><line x1="808.5" y1="116" x2="808.5" y2="123"/><line x1="942.5" y1="116" x2="942.5" y2="123"/></g>
<g font-size="10" fill="#222" text-anchor="middle"><text x="636.3" y="123.8">Conduit 15 (1)</text><text x="875.5" y="123.8">Conduit 15</text></g>
<g font-size="12" fill="#333"><text x="429.500" y="431.3" text-anchor="end">638</text><text x="429.500" y="391.3" text-anchor="end">639</text><text x="429.500" y="351.3" text-anchor="end">640</text><text x="429.500" y="311.3" text-anchor="end">641</text><text x="429.500" y="271.3" text-anchor="end">642</text><text x="429.500" y="231.3" text-anchor="end">643</text><text x="429.500" y="191.3" text-anchor="end">644</text><text x="429.500" y="151.3" text-anchor="end">645</text><text x="429.500" y="465.500" text-anchor="end">637</text><text x="463.8" y="493.400" text-anchor="middle">0</text><text x="516.0" y="493.400" text-anchor="middle">50</text><text x="568.2" y="493.400" text-anchor="middle">100</text><text x="620.4" y="493.400" text-anchor="middle">150</text><text x="672.5" y="493.400" text-anchor="middle">200</text><text x="724.7" y="493.400" text-anchor="middle">250</text><text x="776.9" y="493.400" text-anchor="middle">300</text><text x="829.1" y="493.400" text-anchor="middle">350</text><text x="881.3" y="493.400" text-anchor="middle">400</text><text x="933.5" y="493.400" text-anchor="middle">450</text></g>
<text x="704.500" y="517.800" font-size="13" font-weight="bold" fill="#222" text-anchor="middle" letter-spacing="0.700">Station (ft)</text>
<text transform="translate(402,334.500) rotate(-90)" font-size="13" font-weight="bold" fill="#222" text-anchor="start" letter-spacing="0.500">Elevation (ft)</text>
<g font-size="12" fill="#222"><text x="586.5" y="103">Plan:</text><text x="631.5" y="103">Major Group: Mid</text><text x="742.5" y="103">Minor Group: (+ 1 others)</text></g>
</svg>

<!-- legend -->
<div class="abs" style="left:984px;top:113px;width:48px;height:24px;background:#f0f0f0;border-top:1px solid #696969;border-left:1px solid #696969;border-right:1px solid #7a7a7a;border-bottom:1px solid #e8e8e8;box-shadow:inset 1px 1px 0 #a0a0a0"></div>
<div class="abs" style="left:1035px;top:113px;width:48px;height:24px;background:#f0f0f0;border-top:1px solid #fff;border-left:1px solid #fff;border-right:2px solid #8a8a8a;border-bottom:2px solid #8a8a8a"></div>
<svg class="abs" style="left:999px;top:116px" width="20" height="18" viewBox="999 116 20 18"><rect x="999.400" y="116.800" width="18.600" height="15.800" fill="#fff" opacity=".85"/><path d="M1001.500 117V131.700H1018" stroke="#0808ff" stroke-width="1.100" fill="none"/><path d="M1001.800 127.300Q1004.500 124.500 1006 121.200L1010.300 127.300L1017 130" stroke="#0a8a14" stroke-width="2" fill="none" stroke-linejoin="round"/><path d="M1002.200 130.300Q1005 129 1006.500 124.500L1009 119.800L1012.500 123.500L1017 129.300" stroke="#ff1496" stroke-width="2" fill="none" stroke-linejoin="round"/></svg>
<svg class="abs" style="left:1050px;top:116px" width="18" height="18" viewBox="1050 116 18 18"><rect x="1050.900" y="116.100" width="16.100" height="16.500" rx="2.200" fill="#000"/><g fill="#fff"><rect x="1052.1" y="120.1" width="3.400" height="3"/><rect x="1057.3" y="120.1" width="3.400" height="3"/><rect x="1062.5" y="120.1" width="3.400" height="3"/><rect x="1052.1" y="124.6" width="3.400" height="3"/><rect x="1057.3" y="124.6" width="3.400" height="3"/><rect x="1062.5" y="124.6" width="3.400" height="3"/><rect x="1052.1" y="129.0" width="3.400" height="3"/><rect x="1057.3" y="129.0" width="3.400" height="3"/><rect x="1062.5" y="129.0" width="3.400" height="3"/></g></svg>
<div class="abs" style="left:984px;top:137px;width:99px;height:389px;background:#fff;border:1px solid #000"></div>
<div class="abs" style="left:984px;top:162px;width:99px;height:1px;background:#000"></div>
<div class="abs" style="left:984px;top:143px;width:99px;text-align:center;font-weight:bold;font-size:12px">Legend</div>
<svg class="abs" style="left:984px;top:163px" width="99" height="160" font-family="Liberation Sans, sans-serif" font-size="12">
<line x1="7" y1="9.500" x2="92" y2="9.500" stroke="#000" stroke-width="2.600"/>
<line x1="7" y1="40.500" x2="92" y2="40.500" stroke="#555" stroke-width="1"/>
<line x1="7" y1="77.500" x2="92" y2="77.500" stroke="#000" stroke-width="1" stroke-dasharray="2 2"/>
<path d="M46.500 73H53.500L50 79Z" fill="#000"/>
<line x1="7" y1="119.500" x2="92" y2="119.500" stroke="#000" stroke-width="1"/>
<rect x="48" y="116" width="4" height="4" fill="#000"/>
<g fill="#222" text-anchor="middle"><text x="57" y="26">Conduit</text><text x="57" y="58">Face</text><text x="57" y="100">Drop Inlet</text><text x="57" y="142">Ground</text></g>
</svg>
<i class="cb lcb" style="left:990px;top:177px"></i><i class="cb lcb" style="left:990px;top:209px"></i><i class="cb lcb" style="left:990px;top:251px"></i><i class="cb lcb" style="left:990px;top:293px"></i>
<svg class="abs" style="left:990px;top:177px" width="12" height="130"><g stroke="#000" stroke-width="1.600" fill="none"><path d="M3 6L5 8.500L9.500 3.500"/><path d="M3 38L5 40.500L9.500 35.500"/><path d="M3 80L5 82.500L9.500 77.500"/><path d="M3 122L5 124.500L9.500 119.500"/></g></svg>

<!-- red arrow -->
<svg class="abs" style="left:0;top:0" width="1106" height="536">
<defs><filter id="sh" x="-5%" y="-30%" width="110%" height="180%"><feGaussianBlur in="SourceAlpha" stdDeviation="2"/><feOffset dx="1" dy="4" result="o"/><feComponentTransfer><feFuncA type="linear" slope=".45"/></feComponentTransfer><feMerge><feMergeNode/><feMergeNode in="SourceGraphic"/></feMerge></filter></defs>
<g filter="url(#sh)" transform="translate(95.400,227.200) rotate(4.400)">
<path d="M0 0L30 -14.600V14.600Z" fill="#fb4045"/>
<path d="M711.600 0L681 -14.600V14.600Z" fill="#fb4045"/>
<line x1="35.400" y1="0" x2="685.400" y2="0" stroke="#fb4045" stroke-width="10.300" stroke-dasharray="10 10"/>
</g>
</svg>
</body></html>
